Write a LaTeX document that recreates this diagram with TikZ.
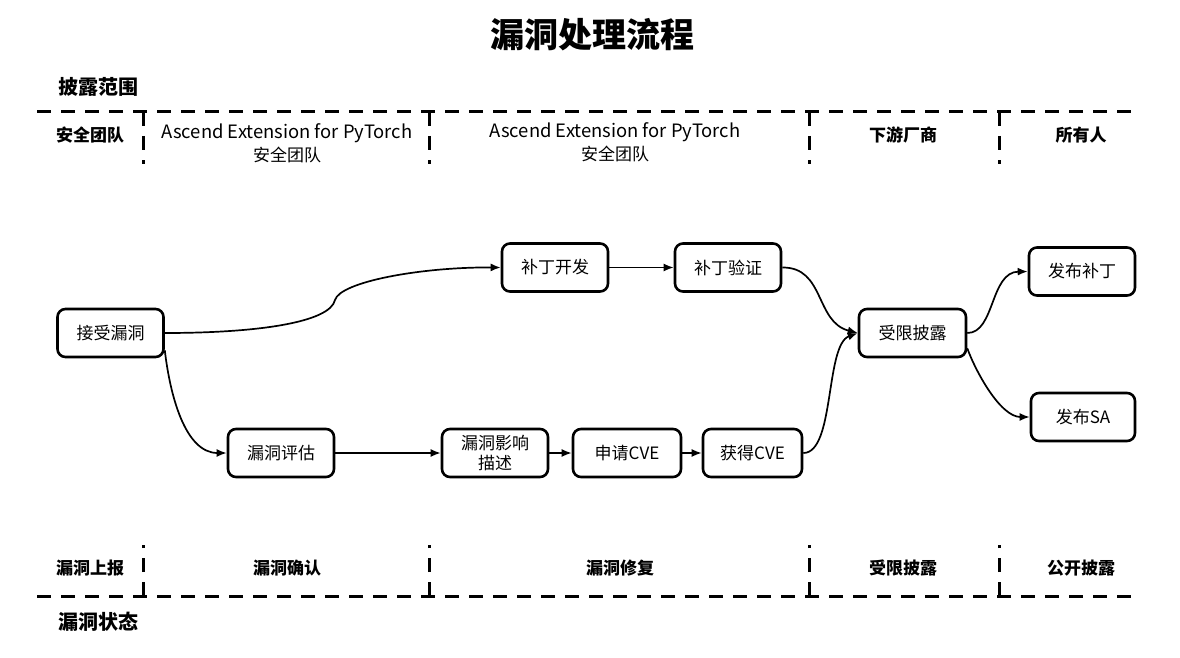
\documentclass[tikz,border=0pt]{standalone}
\usepackage{fontspec}
\setmainfont{Noto Sans CJK SC}
\usetikzlibrary{arrows.meta}
\begin{document}
\begin{tikzpicture}[x=1pt,y=-1pt,
  box/.style={draw, line width=2.6pt, rounded corners=8pt, minimum width=106pt, minimum height=48pt, inner sep=0pt, font=\fontsize{17}{20}\selectfont, align=center},
  conn/.style={line width=1.7pt, -{Latex[length=10pt,width=8pt]}},
  sepline/.style={line width=3pt, dash pattern=on 14pt off 10pt},
  hdr/.style={font=\fontsize{17}{23}\selectfont, align=center, inner sep=0pt},
  hdrb/.style={font=\fontsize{17}{23}\selectfont\bfseries, align=center, inner sep=0pt},
  lbl/.style={font=\fontsize{20}{24}\selectfont\bfseries, anchor=west, inner sep=0pt},
  ttl/.style={font=\fontsize{34}{40}\selectfont\bfseries, inner sep=0pt}]
\useasboundingbox (0,0) rectangle (1180,658);
\node[ttl] (title) at (592,35) {漏洞处理流程};
\node[lbl] (scope) at (58,87) {披露范围};
\node[lbl] (state) at (58,622) {漏洞状态};
% top separators
\draw[sepline] (37,112) -- (1140,112);
\foreach \x in {143,429,809,999} \draw[sepline] (\x,112) -- (\x,164);
% bottom separators
\draw[sepline] (37,596) -- (1140,596);
\foreach \x in {143,429,809,999} \draw[sepline] (\x,596) -- (\x,545);
% header texts
\node[hdrb] (t1) at (90,135) {安全团队};
\node[hdr] (t2) at (287,143) {{\fontsize{18.4}{23}\selectfont Ascend Extension for PyTorch}\\安全团队};
\node[hdr] (t3) at (615,142) {{\fontsize{18.4}{23}\selectfont Ascend Extension for PyTorch}\\安全团队};
\node[hdrb] (t4) at (903,135) {下游厂商};
\node[hdrb] (t5) at (1081,135) {所有人};
% bottom texts
\node[hdrb] (b1) at (90,568) {漏洞上报};
\node[hdrb] (b2) at (287,568) {漏洞确认};
\node[hdrb] (b3) at (620,568) {漏洞修复};
\node[hdrb] (b4) at (903,568) {受限披露};
\node[hdrb] (b5) at (1081,568) {公开披露};
% boxes
\node[box] (jsld) at (110.5,333) {接受漏洞};
\node[box] (pg) at (281,453) {漏洞评估};
\node[box] (yxms) at (495,453) {漏洞影响\\描述};
\node[box, minimum width=108pt] (sq) at (627,453) {申请CVE};
\node[box, minimum width=99pt] (hd) at (752.5,453) {获得CVE};
\node[box] (bk) at (555,267.5) {补丁开发};
\node[box] (yz) at (728,267.5) {补丁验证};
\node[box, minimum width=107pt] (sx) at (912.5,333) {受限披露};
\node[box] (fb) at (1082,271.5) {发布补丁};
\node[box, minimum width=104pt] (sa) at (1083,417) {发布SA};
% connectors
\coordinate (k1) at (335,300);
\draw[conn] (jsld.east) .. controls (260,333) and (330,322) .. (k1) .. controls (340,282) and (420,267) .. (bk.west);
\draw[conn] ([yshift=8pt]jsld.south east) .. controls (170,395) and (185,453) .. (pg.west);
\draw[conn] (pg) -- (yxms);
\draw[conn] (yxms) -- (sq);
\draw[conn] (sq) -- (hd);
\draw[conn] (bk) -- (yz);
\draw[conn] (yz.east) .. controls (825,267) and (815,322) .. (sx.west);
\draw[conn] (hd.east) .. controls (835,453) and (825,345) .. (sx.west);
\draw[conn] (sx.east) .. controls (995,333) and (990,272) .. (fb.west);
\draw[conn] ([yshift=10pt]sx.south east) .. controls (975,370) and (1000,417) .. (sa.west);
\end{tikzpicture}
\end{document}
